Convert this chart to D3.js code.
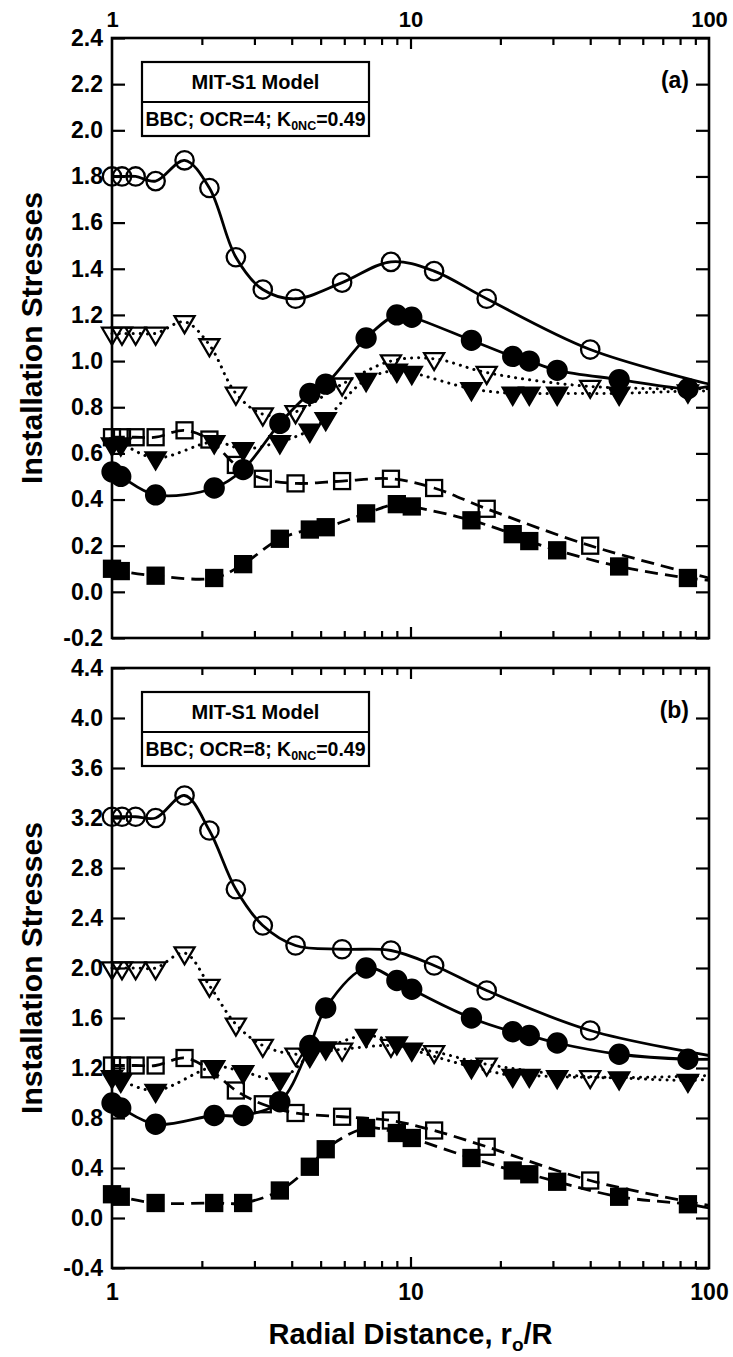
<!DOCTYPE html>
<html>
<head>
<meta charset="utf-8">
<script src="https://cdn.jsdelivr.net/npm/d3@7"></script>
<style>
  html, body { margin: 0; padding: 0; background: #fff; }
  svg text {
    font-family: "Liberation Sans", Arial, Helvetica, sans-serif;
    font-weight: bold;
    fill: #000;
  }
</style>
</head>
<body>
<svg id="chart" width="733" height="1357"></svg>
<script>
// Radial positions r0/R of the open-symbol and filled-symbol stations
const rOpen   = [1.0, 1.08, 1.2, 1.4, 1.75, 2.12, 2.6, 3.2, 4.12, 5.9, 8.6, 12, 18, 40];
const rFilled = [1.0, 1.07, 1.4, 2.2, 2.75, 3.65, 4.6, 5.2, 7.1, 9.0, 10.1, 16, 22, 25, 31, 50, 85];

// Panel (a): OCR = 4
const a_openCircle   = [1.80, 1.80, 1.80, 1.78, 1.87, 1.75, 1.45, 1.31, 1.27, 1.34, 1.43, 1.39, 1.27, 1.05];
const a_openTri      = [1.12, 1.12, 1.12, 1.12, 1.17, 1.07, 0.86, 0.77, 0.78, 0.90, 1.00, 1.01, 0.95, 0.89];
const a_openSquare   = [0.67, 0.67, 0.67, 0.67, 0.70, 0.66, 0.55, 0.49, 0.47, 0.48, 0.49, 0.45, 0.36, 0.20];
const a_fillCircle   = [0.52, 0.50, 0.42, 0.45, 0.53, 0.73, 0.86, 0.90, 1.10, 1.20, 1.19, 1.09, 1.02, 1.00, 0.96, 0.92, 0.88];
const a_fillTri      = [0.64, 0.64, 0.58, 0.65, 0.62, 0.65, 0.70, 0.75, 0.92, 0.96, 0.95, 0.88, 0.86, 0.86, 0.86, 0.86, 0.87];
const a_fillSquare   = [0.10, 0.09, 0.07, 0.06, 0.12, 0.23, 0.27, 0.28, 0.34, 0.38, 0.37, 0.31, 0.25, 0.22, 0.18, 0.11, 0.06];
// curve end values at r0/R = 100 (open circle, open tri, open square, filled circle, filled tri, filled square)
const a_curveEnd     = [0.90, 0.88, 0.06, 0.89, 0.87, 0.05];

// Panel (b): OCR = 8
const b_openCircle   = [3.21, 3.21, 3.21, 3.20, 3.38, 3.10, 2.63, 2.34, 2.18, 2.15, 2.14, 2.02, 1.82, 1.50];
const b_openTri      = [2.00, 2.00, 2.00, 2.00, 2.12, 1.86, 1.55, 1.38, 1.31, 1.35, 1.38, 1.33, 1.23, 1.13];
const b_openSquare   = [1.22, 1.22, 1.22, 1.22, 1.28, 1.19, 1.02, 0.91, 0.84, 0.81, 0.78, 0.70, 0.57, 0.30];
const b_fillCircle   = [0.92, 0.88, 0.75, 0.82, 0.82, 0.93, 1.38, 1.68, 2.00, 1.90, 1.83, 1.60, 1.49, 1.46, 1.40, 1.31, 1.27];
const b_fillTri      = [1.13, 1.10, 1.02, 1.21, 1.17, 1.11, 1.30, 1.36, 1.46, 1.40, 1.35, 1.21, 1.14, 1.14, 1.13, 1.12, 1.10];
const b_fillSquare   = [0.19, 0.17, 0.12, 0.12, 0.12, 0.22, 0.41, 0.55, 0.72, 0.68, 0.64, 0.48, 0.38, 0.35, 0.29, 0.17, 0.11];
const b_curveEnd     = [1.30, 1.14, 0.10, 1.27, 1.11, 0.08];

// Axis ticks and labels
const xLabelTicks = [1, 10, 100];
const xMinorTicks = [2, 3, 4, 5, 6, 7, 8, 9, 20, 30, 40, 50, 60, 70, 80, 90];
const yTicksA = [-0.2, 0.0, 0.2, 0.4, 0.6, 0.8, 1.0, 1.2, 1.4, 1.6, 1.8, 2.0, 2.2, 2.4];
const yTicksB = [-0.4, 0.0, 0.4, 0.8, 1.2, 1.6, 2.0, 2.4, 2.8, 3.2, 3.6, 4.0, 4.4];

const modelName = "MIT-S1 Model";
const xTitle = "Radial Distance, r";
const yTitle = "Installation Stresses";

const svg = d3.select("#chart");
const plotLeft = 112, plotRight = 709;
const x = d3.scaleLog().domain([1, 100]).range([plotLeft, plotRight]);

const panels = [
  { top: 38, bottom: 638, domain: [-0.2, 2.4], ticks: yTicksA, tag: "(a)", ocr: 4,
    open: [a_openCircle, a_openTri, a_openSquare], filled: [a_fillCircle, a_fillTri, a_fillSquare],
    ends: a_curveEnd, topLabels: true, bottomLabels: false },
  { top: 668, bottom: 1268, domain: [-0.4, 4.4], ticks: yTicksB, tag: "(b)", ocr: 8,
    open: [b_openCircle, b_openTri, b_openSquare], filled: [b_fillCircle, b_fillTri, b_fillSquare],
    ends: b_curveEnd, topLabels: false, bottomLabels: true }
];

// line style per symbol kind: circle solid, triangle dotted, square dashed
const dashFor = { circle: null, tri: "0.1 7", square: "13 7" };
const kinds = ["circle", "tri", "square"];

function marker(g, kind, filled, px, py) {
  const stroke = "#000", sw = 2.3;
  if (kind === "circle") {
    g.append("circle").attr("cx", px).attr("cy", py).attr("r", filled ? 9.5 : 9.2)
      .attr("fill", filled ? "#000" : "none").attr("stroke", stroke).attr("stroke-width", sw);
  } else if (kind === "square") {
    const s = 16;
    g.append("rect").attr("x", px - s / 2).attr("y", py - s / 2).attr("width", s).attr("height", s)
      .attr("fill", filled ? "#000" : "none").attr("stroke", stroke).attr("stroke-width", sw);
  } else {
    const w = 20, h = 17;
    const pts = [[px - w / 2, py - h / 3], [px + w / 2, py - h / 3], [px, py + 2 * h / 3]];
    g.append("path").attr("d", "M" + pts.map(p => p.join(",")).join("L") + "Z")
      .attr("fill", filled ? "#000" : "none").attr("stroke", stroke).attr("stroke-width", sw)
      .attr("stroke-linejoin", "miter");
  }
}

panels.forEach(p => {
  const g = svg.append("g");
  const y = d3.scaleLinear().domain(p.domain).range([p.bottom, p.top]);

  // curves
  const line = d3.line().x(d => x(d[0])).y(d => y(d[1])).curve(d3.curveCatmullRom.alpha(0.5));
  const curves = g.append("g").attr("fill", "none").attr("stroke", "#000");
  kinds.forEach((k, i) => {
    [[rOpen, p.open[i], p.ends[i]], [rFilled, p.filled[i], p.ends[i + 3]]].forEach(([xs, ys, end]) => {
      const pts = xs.map((r, j) => [r, ys[j]]).concat([[100, end]]);
      const path = curves.append("path").attr("d", line(pts))
        .attr("stroke-width", k === "tri" ? 3 : 2.8);
      if (dashFor[k]) path.attr("stroke-dasharray", dashFor[k]);
      if (k === "tri") path.attr("stroke-linecap", "round");
    });
  });

  // markers
  const mk = g.append("g");
  kinds.forEach((k, i) => {
    rOpen.forEach((r, j) => marker(mk, k, false, x(r), y(p.open[i][j])));
    rFilled.forEach((r, j) => marker(mk, k, true, x(r), y(p.filled[i][j])));
  });

  // frame
  g.append("rect").attr("x", plotLeft).attr("y", p.top)
    .attr("width", plotRight - plotLeft).attr("height", p.bottom - p.top)
    .attr("fill", "none").attr("stroke", "#000").attr("stroke-width", 2.6);

  // y axes, ticks pointing inward
  const left = g.append("g").attr("transform", `translate(${plotLeft},0)`)
    .call(d3.axisLeft(y).tickValues(p.ticks).tickSize(-13).tickPadding(9).tickFormat(d => d.toFixed(1)));
  const right = g.append("g").attr("transform", `translate(${plotRight},0)`)
    .call(d3.axisRight(y).tickValues(p.ticks).tickSize(-13).tickFormat(""));
  [left, right].forEach(a => {
    a.select(".domain").remove();
    a.selectAll("line").attr("stroke-width", 2.2);
    a.selectAll("text").attr("font-size", 23).attr("font-family", null);
  });

  // x ticks on top and bottom edges
  [[p.top, d3.axisTop], [p.bottom, d3.axisBottom]].forEach(([yy, ax]) => {
    const minor = g.append("g").attr("transform", `translate(0,${yy})`)
      .call(ax(x).tickValues(xMinorTicks).tickSize(-7).tickFormat(""));
    const major = g.append("g").attr("transform", `translate(0,${yy})`)
      .call(ax(x).tickValues([10]).tickSize(-11).tickFormat(""));
    [minor, major].forEach(a => { a.select(".domain").remove(); a.selectAll("line").attr("stroke-width", 2.2); });
  });
  if (p.topLabels) {
    const lab = g.append("g").attr("transform", `translate(0,${p.top})`)
      .call(d3.axisTop(x).tickValues(xLabelTicks).tickSize(0).tickPadding(11).tickFormat(d3.format("d")));
    lab.select(".domain").remove();
    lab.selectAll("text").attr("font-size", 22).attr("font-family", null);
  }
  if (p.bottomLabels) {
    const lab = g.append("g").attr("transform", `translate(0,${p.bottom})`)
      .call(d3.axisBottom(x).tickValues(xLabelTicks).tickSize(0).tickPadding(16).tickFormat(d3.format("d")));
    lab.select(".domain").remove();
    lab.selectAll("text").attr("font-size", 23).attr("font-family", null);
  }

  // model / condition box
  const bx = 142, bw = 227, by = p.top + 24, rowH = 40, rowH2 = 34;
  g.append("rect").attr("x", bx).attr("y", by).attr("width", bw).attr("height", rowH + rowH2)
    .attr("fill", "#fff").attr("stroke", "#000").attr("stroke-width", 2.2);
  g.append("line").attr("x1", bx).attr("x2", bx + bw).attr("y1", by + rowH).attr("y2", by + rowH)
    .attr("stroke", "#000").attr("stroke-width", 2.2);
  g.append("text").attr("x", bx + bw / 2).attr("y", by + rowH / 2 + 7)
    .attr("text-anchor", "middle").attr("font-size", 20).text(modelName);
  const t = g.append("text").attr("x", bx + bw / 2).attr("y", by + rowH + rowH2 / 2 + 7)
    .attr("text-anchor", "middle").attr("font-size", 19.5);
  t.append("tspan").text(`BBC; OCR=${p.ocr}; K`);
  t.append("tspan").attr("font-size", 12.5).attr("dy", 4).text("0NC");
  t.append("tspan").attr("dy", -4).text("=0.49");

  // panel tag
  g.append("text").attr("x", 689).attr("y", p.top + 50).attr("text-anchor", "end")
    .attr("font-size", 23).text(p.tag);

  // y title
  g.append("text").attr("transform", `translate(42,${(p.top + p.bottom) / 2}) rotate(-90)`)
    .attr("text-anchor", "middle").attr("font-size", 30).text(yTitle);
});

// x title
const xt = svg.append("text").attr("x", (plotLeft + plotRight) / 2).attr("y", 1344)
  .attr("text-anchor", "middle").attr("font-size", 29);
xt.append("tspan").text(xTitle);
xt.append("tspan").attr("font-size", 19).attr("dy", 7).text("o");
xt.append("tspan").attr("dy", -7).text("/R");
</script>
</body>
</html>
